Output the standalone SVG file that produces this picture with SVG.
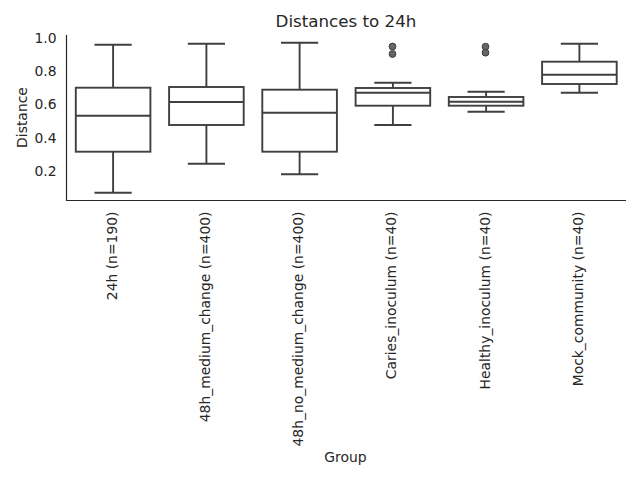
<svg xmlns="http://www.w3.org/2000/svg" width="640" height="480" viewBox="0 0 640 480">
<style>
text{font-family:"DejaVu Sans","Liberation Sans",sans-serif;fill:#262626}
.tk{font-size:13.9px}
.lbl{font-size:13.9px}
.ttl{font-size:16.7px}
.box{fill:#ffffff;stroke:#3f3f3f;stroke-width:1.9}
.ln{stroke:#3f3f3f;stroke-width:1.9;fill:none}
.fl{fill:#666666;stroke:#3f3f3f;stroke-width:1}
.sp{stroke:#262626;stroke-width:1.2;fill:none}
</style>
<rect width="640" height="480" fill="#ffffff"/>
<text class="ttl" x="346" y="26.5" text-anchor="middle">Distances to 24h</text>
<g id="axes">
<line class="sp" x1="66.5" y1="35" x2="66.5" y2="200.5"/>
<line class="sp" x1="66" y1="200.5" x2="626" y2="200.5"/>
<g id="yticks" class="tk" text-anchor="end">
<text class="tk" x="56.5" y="43">1.0</text>
<text class="tk" x="56.5" y="76">0.8</text>
<text class="tk" x="56.5" y="109">0.6</text>
<text class="tk" x="56.5" y="142.5">0.4</text>
<text class="tk" x="56.5" y="175.5">0.2</text>
</g>
<text class="lbl" transform="translate(26.5,117.5) rotate(-90)" text-anchor="middle">Distance</text>
<text class="lbl" x="345.5" y="461.5" text-anchor="middle">Group</text>
<g id="xticks">
<text class="tk" text-anchor="end" transform="translate(116.6,211.5) rotate(-90)">24h (n=190)</text>
<text class="tk" text-anchor="end" transform="translate(209.9,211.5) rotate(-90)">48h_medium_change (n=400)</text>
<text class="tk" text-anchor="end" transform="translate(303.1,211.5) rotate(-90)">48h_no_medium_change (n=400)</text>
<text class="tk" text-anchor="end" transform="translate(396.4,211.5) rotate(-90)">Caries_inoculum (n=40)</text>
<text class="tk" text-anchor="end" transform="translate(489.6,211.5) rotate(-90)">Healthy_inoculum (n=40)</text>
<text class="tk" text-anchor="end" transform="translate(582.9,211.5) rotate(-90)">Mock_community (n=40)</text>
</g>
</g>
<g id="box-24h">
<line class="ln" x1="113.1" y1="87.7" x2="113.1" y2="44.7"/>
<line class="ln" x1="113.1" y1="151.7" x2="113.1" y2="192.7"/>
<line class="ln" x1="94.5" y1="44.7" x2="131.7" y2="44.7"/>
<line class="ln" x1="94.5" y1="192.7" x2="131.7" y2="192.7"/>
<rect class="box" x="75.8" y="87.7" width="74.6" height="64"/>
<line class="ln" x1="75.8" y1="115.7" x2="150.4" y2="115.7"/>
</g>
<g id="box-48h-medium-change">
<line class="ln" x1="206.4" y1="87" x2="206.4" y2="43.7"/>
<line class="ln" x1="206.4" y1="125" x2="206.4" y2="163.7"/>
<line class="ln" x1="187.8" y1="43.7" x2="225" y2="43.7"/>
<line class="ln" x1="187.8" y1="163.7" x2="225" y2="163.7"/>
<rect class="box" x="169.1" y="87" width="74.6" height="38"/>
<line class="ln" x1="169.1" y1="102" x2="243.7" y2="102"/>
</g>
<g id="box-48h-no-medium-change">
<line class="ln" x1="299.6" y1="89.7" x2="299.6" y2="42.7"/>
<line class="ln" x1="299.6" y1="151.7" x2="299.6" y2="174.3"/>
<line class="ln" x1="281" y1="42.7" x2="318.2" y2="42.7"/>
<line class="ln" x1="281" y1="174.3" x2="318.2" y2="174.3"/>
<rect class="box" x="262.3" y="89.7" width="74.6" height="62"/>
<line class="ln" x1="262.3" y1="112.7" x2="336.9" y2="112.7"/>
</g>
<g id="box-caries-inoculum">
<line class="ln" x1="392.9" y1="88" x2="392.9" y2="82.7"/>
<line class="ln" x1="392.9" y1="105.7" x2="392.9" y2="125"/>
<line class="ln" x1="374.3" y1="82.7" x2="411.5" y2="82.7"/>
<line class="ln" x1="374.3" y1="125" x2="411.5" y2="125"/>
<rect class="box" x="355.6" y="88" width="74.6" height="17.7"/>
<line class="ln" x1="355.6" y1="92.7" x2="430.2" y2="92.7"/>
<circle class="fl" cx="392.5" cy="46.5" r="3.4"/>
<circle class="fl" cx="392.5" cy="54" r="3.4"/>
</g>
<g id="box-healthy-inoculum">
<line class="ln" x1="486.1" y1="97" x2="486.1" y2="91.7"/>
<line class="ln" x1="486.1" y1="105.7" x2="486.1" y2="111.7"/>
<line class="ln" x1="467.5" y1="91.7" x2="504.7" y2="91.7"/>
<line class="ln" x1="467.5" y1="111.7" x2="504.7" y2="111.7"/>
<rect class="box" x="448.8" y="97" width="74.6" height="8.7"/>
<line class="ln" x1="448.8" y1="101.7" x2="523.4" y2="101.7"/>
<circle class="fl" cx="485.5" cy="46.7" r="3.4"/>
<circle class="fl" cx="485.5" cy="52.7" r="3.4"/>
</g>
<g id="box-mock-community">
<line class="ln" x1="579.4" y1="61.7" x2="579.4" y2="43.7"/>
<line class="ln" x1="579.4" y1="84" x2="579.4" y2="92.7"/>
<line class="ln" x1="560.8" y1="43.7" x2="598" y2="43.7"/>
<line class="ln" x1="560.8" y1="92.7" x2="598" y2="92.7"/>
<rect class="box" x="542.1" y="61.7" width="74.6" height="22.3"/>
<line class="ln" x1="542.1" y1="74.7" x2="616.7" y2="74.7"/>
</g>
</svg>
